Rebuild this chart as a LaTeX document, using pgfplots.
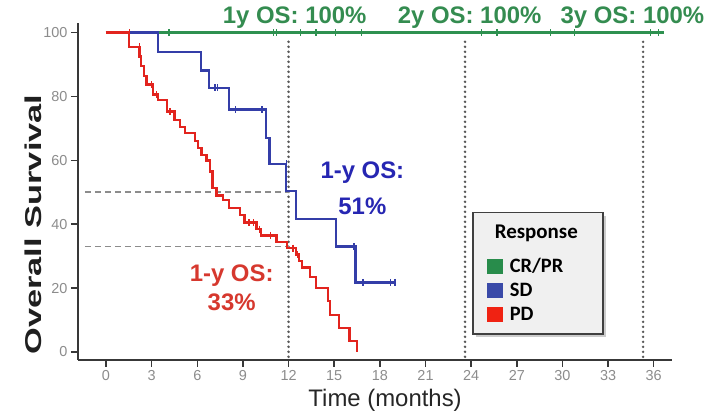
\documentclass[border=0pt]{standalone}
\usepackage{pgfplots}
\pgfplotsset{compat=1.18}
\usepackage{graphicx}
\usepackage{fontspec}
\setmainfont{Liberation Sans}
\newfontfamily\carlito{Carlito}
\usetikzlibrary{shadows}
\definecolor{cgreen}{RGB}{46,145,80}
\definecolor{cblue}{RGB}{52,62,168}
\definecolor{cred}{RGB}{226,36,30}
\definecolor{tgreen}{RGB}{52,140,80}
\definecolor{tblue}{RGB}{38,38,178}
\definecolor{tred}{RGB}{214,56,46}
\definecolor{lgreen}{RGB}{40,140,75}
\definecolor{lblue}{RGB}{58,74,168}
\definecolor{lred}{RGB}{240,34,18}
\newcommand{\sq}[1]{\pgfpathrectangle{\pgfpoint{0bp}{-7.5bp}}{\pgfpoint{16bp}{15bp}}\pgfsetfillcolor{#1}\pgfusepath{fill}}
\begin{document}
\begin{tikzpicture}
\path[use as bounding box] (0,0) rectangle (708bp,417bp);
\begin{axis}[
  at={(78bp,57bp)}, anchor=south west,
  scale only axis, width=594bp, height=337bp,
  xmin=-1.84, xmax=37.2, ymin=-2.5, ymax=103,
  axis x line*=bottom, axis y line*=left,
  axis line style={draw=black!78, line width=2bp},
  xtick={0,3,...,36}, ytick={0,20,...,100},
  tick style={draw=black!78, line width=1.5bp},
  tick align=outside, major tick length=7bp,
  ticklabel style={font=\fontsize{14.5}{14.5}\selectfont, text=black!45},
  /pgf/number format/assume math mode=true,
  xlabel={Time (months)},
  xlabel style={font=\fontsize{24}{24}\selectfont, text=black!85, at={(axis description cs:0.517,-0.119)}, anchor=center},
  ylabel={\scalebox{1.5}[1]{Overall Survival}},
  ylabel style={font=\bfseries\fontsize{23}{23}\selectfont, text=black!88, at={(axis description cs:-0.0758,0.402)}, anchor=center},
  clip=false,
  legend style={at={(axis cs:24.07,43.8)}, anchor=north west, fill=black!6, draw=black!75, line width=1.3bp,
    drop shadow={shadow xshift=3bp, shadow yshift=-3bp, fill=black!40},
    font=\carlito\bfseries\fontsize{20.5}{20.5}\selectfont, inner xsep=14bp, inner ysep=10bp, row sep=5.3bp,
    cells={anchor=west}},
  legend cell align=left,
]
% reference lines
\addplot[black!65, line width=2.8bp, dash pattern=on 0pt off 5bp, line cap=round, forget plot] coordinates {(12,-1.5) (12,98.5)};
\addplot[black!65, line width=2.8bp, dash pattern=on 0pt off 5bp, line cap=round, forget plot] coordinates {(23.6,-1.5) (23.6,98.5)};
\addplot[black!65, line width=2.8bp, dash pattern=on 0pt off 5bp, line cap=round, forget plot] coordinates {(35.3,-1.5) (35.3,98.5)};
\addplot[black!45, line width=1.6bp, dash pattern=on 6bp off 4bp, forget plot] coordinates {(-1.38,50) (12,50)};
\addplot[black!45, line width=1.6bp, dash pattern=on 6bp off 4bp, forget plot] coordinates {(-1.38,33) (12,33)};
% CR/PR
\addplot[cgreen, line width=2.3bp, forget plot] coordinates {(0,100) (36.7,100)};
\addplot[cgreen, only marks, mark=|, mark size=3.5bp, mark options={line width=1.3bp}, forget plot] coordinates {
(4.15,100) (11.0,100) (11.2,100) (12.8,100) (13.8,100) (15.1,100) (16.8,100) (24.7,100) (25.7,100) (29.2,100) (30.8,100) (35.8,100) (36.3,100)};
% SD
\addplot[cblue, line width=2.3bp, const plot, forget plot] coordinates {
(0,100) (3.43,94) (6.23,88.1) (6.77,82.7) (8.07,75.9) (10.5,67) (10.75,58.9) (11.85,50.3) (12.5,41.6) (15.1,33) (16.4,21.8) (19.0,21.8)};
\addplot[cblue, only marks, mark=|, mark size=3.5bp, mark options={line width=1.3bp}, forget plot] coordinates {
(7.17,82.7) (7.34,82.7) (8.5,75.9) (10.25,75.9) (11.85,58.9) (11.85,55) (16.3,33) (16.9,21.8) (18.7,21.8) (19.0,21.8)};
% PD
\addplot[cred, line width=2.3bp, const plot, forget plot] coordinates {
(0,100) (1.53,95.5) (2.2,92.5) (2.3,89.5) (2.5,86.5) (2.66,83.7) (3.1,80.6) (3.43,79) (4.0,75.3) (4.5,72.7) (4.85,70.5) (5.2,68.5) (5.84,66) (6.05,63.8) (6.27,61.6) (6.6,60) (6.82,56.5) (7.0,51.3) (7.26,49) (7.7,47.5) (8.1,45) (8.8,43) (9.1,40.5) (9.9,38.5) (10.2,36.5) (11.2,34.5) (11.9,32.5) (12.5,30.5) (12.7,28.5) (12.9,26.5) (13.4,23.5) (13.8,20) (14.6,16) (14.7,11.6) (15.3,7.5) (16.0,3.5) (16.5,0)};
\addplot[cred, only marks, mark=|, mark size=3.5bp, mark options={line width=1.3bp}, forget plot] coordinates {
(1.53,100) (2.2,95.5) (3.0,83.7) (3.3,80.6) (4.2,75.3) (9.4,40.5) (9.7,40.5) (10.1,38.5) (10.8,36.5) (12.3,32.5) (12.6,30.5)};
% legend
\addlegendimage{empty legend}
\addlegendentry{\hspace*{-10bp}\fontsize{21}{21}\selectfont\raisebox{9bp}{Response}}
\addlegendimage{legend image code/.code={\sq{lgreen}}}
\addlegendentry{\hspace*{5bp}\makebox[77bp][l]{CR/PR}}
\addlegendimage{legend image code/.code={\sq{lblue}}}
\addlegendentry{\hspace*{5bp}\makebox[77bp][l]{SD}}
\addlegendimage{legend image code/.code={\sq{lred}}}
\addlegendentry{\hspace*{5bp}\makebox[77bp][l]{PD}}
% annotations
\node[text=tgreen, font=\bfseries\fontsize{24}{24}\selectfont] at (axis cs:12.4,104.8) {1y OS: 100\%};
\node[text=tgreen, font=\bfseries\fontsize{24}{24}\selectfont] at (axis cs:23.9,104.8) {2y OS: 100\%};
\node[text=tgreen, font=\bfseries\fontsize{24}{24}\selectfont] at (axis cs:34.6,104.8) {3y OS: 100\%};
\node[text=tblue, font=\bfseries\fontsize{24}{24}\selectfont] at (axis cs:16.85,56.1) {1-y OS:};
\node[text=tblue, font=\bfseries\fontsize{24}{24}\selectfont] at (axis cs:16.85,45.5) {51\%};
\node[text=tred, font=\bfseries\fontsize{24}{24}\selectfont] at (axis cs:8.26,24.0) {1-y OS:};
\node[text=tred, font=\bfseries\fontsize{24}{24}\selectfont] at (axis cs:8.26,15.5) {33\%};
\end{axis}
\end{tikzpicture}
\end{document}
